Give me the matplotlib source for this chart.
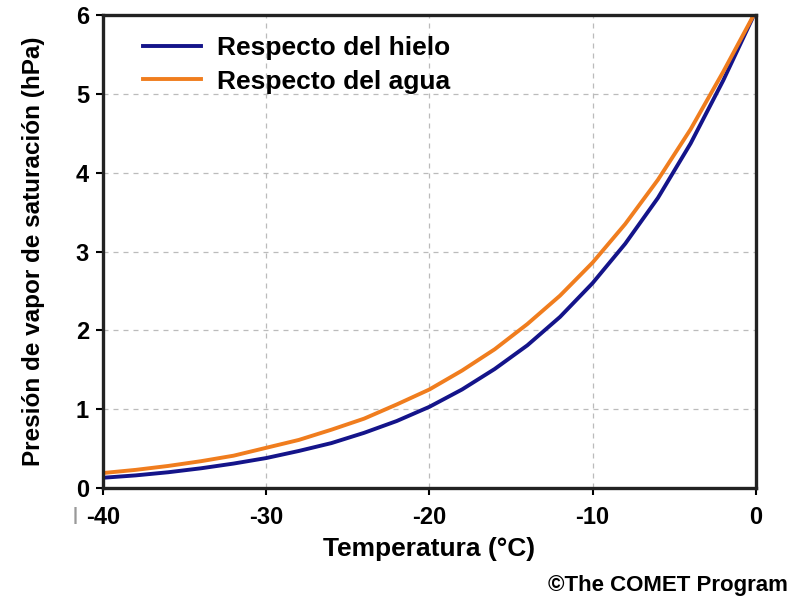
########################################################################################################################
# Presión de vapor de saturación respecto del hielo y del agua
########################################################################################################################
import numpy as np
import matplotlib
matplotlib.use('Agg')
from matplotlib import pyplot as plt
########################################################################################################################
# Datos
temperatura = [-40, -38, -36, -34, -32, -30, -28, -26, -24, -22, -20,
               -18, -16, -14, -12, -10, -8, -6, -4, -2, 0]
presion_hielo = [0.13, 0.16, 0.20, 0.25, 0.31, 0.38, 0.47, 0.57, 0.70, 0.85, 1.03,
                 1.25, 1.51, 1.81, 2.17, 2.60, 3.10, 3.68, 4.37, 5.17, 6.05]
presion_agua = [0.19, 0.23, 0.28, 0.34, 0.41, 0.51, 0.61, 0.74, 0.88, 1.06, 1.25,
                1.49, 1.76, 2.08, 2.44, 2.86, 3.35, 3.91, 4.55, 5.28, 6.05]
xticks = [-40, -30, -20, -10, 0]
yticks = [0, 1, 2, 3, 4, 5, 6]
########################################################################################################################
plt.rcParams['font.family'] = ['Liberation Sans', 'DejaVu Sans']
plt.rcParams['font.weight'] = 'bold'
plt.rcParams['axes.unicode_minus'] = False

fig = plt.figure(figsize=(7.89, 6.01), dpi=100)
ax = fig.add_axes([0.1305, 0.188, 0.8275, 0.787])

ax.plot(temperatura, presion_hielo, color='#14148a', lw=2.8, label='Respecto del hielo')
ax.plot(temperatura, presion_agua, color='#f07d1e', lw=2.8, label='Respecto del agua')

ax.set_xlim(-40, 0)
ax.set_ylim(0, 6)
ax.set_xticks(xticks)
ax.set_yticks(yticks)
ax.grid(True, ls=(0, (4, 4)), color='#bbbbbb', lw=0.9)
for s in ax.spines.values():
    s.set_linewidth(2.4)
    s.set_color('#222222')
ax.tick_params(axis='x', direction='out', length=5, width=1.5, labelsize=17, pad=8)
ax.tick_params(axis='y', direction='out', length=5, width=1.5, labelsize=17, pad=5)
for t in ax.get_xticklabels() + ax.get_yticklabels():
    t.set_fontweight('bold')

ax.set_xlabel('Temperatura (°C)', fontsize=19, fontweight='bold', labelpad=6)
ax.set_ylabel('Presión de vapor de saturación (hPa)', fontsize=17.5, fontweight='bold', labelpad=22)

leg = ax.legend(loc='upper left', frameon=False, fontsize=19, handlelength=2.2,
                handletextpad=0.6, bbox_to_anchor=(0.025, 1.005), labelspacing=0.35)
for t in leg.get_texts():
    t.set_fontweight('bold')

fig.text(0.095, 0.143, '|', color='#999999', fontsize=13, ha='center', va='center')
fig.text(0.998, 0.025, '©The COMET Program', fontsize=16, fontweight='bold', ha='right', va='center')

plt.savefig('out.png', dpi=100)
########################################################################################################################
